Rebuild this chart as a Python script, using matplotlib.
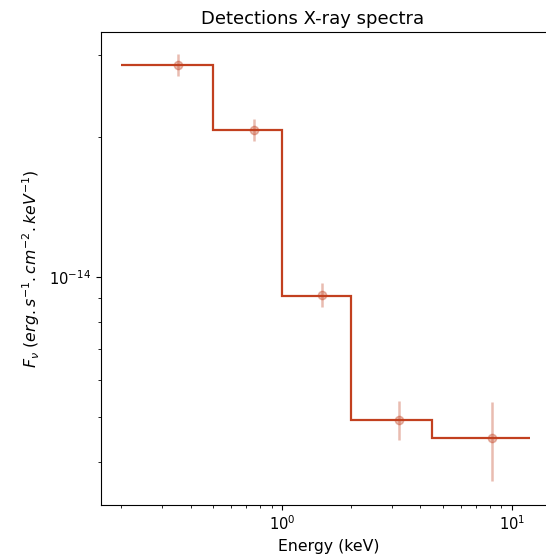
import matplotlib
matplotlib.use("Agg")
import matplotlib.pyplot as plt
from matplotlib.ticker import NullFormatter

## Spectrum bins (keV) and fluxes ##
bin_edges = [0.2, 0.5, 1.0, 2.0, 4.5, 12.0]
model_flux = [2.86e-14, 2.07e-14, 9.1e-15, 4.93e-15, 4.5e-15]

## Detections with errors ##
det_energy = [0.353, 0.755, 1.49, 3.23, 8.19]
det_flux = [2.86e-14, 2.07e-14, 9.15e-15, 4.93e-15, 4.5e-15]
det_err = [1.6e-15, 1.15e-15, 5.5e-16, 4.8e-16, 8.7e-16]

col = "#c2401f"

fig = plt.figure(figsize=(5.46, 5.59), dpi=100)
ax = fig.add_axes([0.185, 0.0966, 0.835, 0.846])

ax.stairs(model_flux, bin_edges, baseline=None, color=col, linewidth=1.6)
ax.errorbar(det_energy, det_flux, yerr=det_err, fmt="o", color=col,
            alpha=0.35, markersize=6, elinewidth=1.8, capsize=0)

ax.set_xscale("log")
ax.set_yscale("log")
ax.set_xlim(0.163, 15.7)
ax.set_ylim(3.23e-15, 3.36e-14)
ax.xaxis.set_minor_formatter(NullFormatter())
ax.yaxis.set_minor_formatter(NullFormatter())
ax.tick_params(labelsize=10.6)

# axes runs past the right edge, so centre the title on the visible part
ax.set_title("Detections X-ray spectra", fontsize=13, x=0.465)
ax.set_xlabel("Energy (keV)", fontsize=11.3)
ax.set_ylabel(r"$F_{\nu}\ (erg.s^{-1}.cm^{-2}.keV^{-1})$", fontsize=11.3,
              labelpad=5)

fig.savefig("out.png", dpi=100)
